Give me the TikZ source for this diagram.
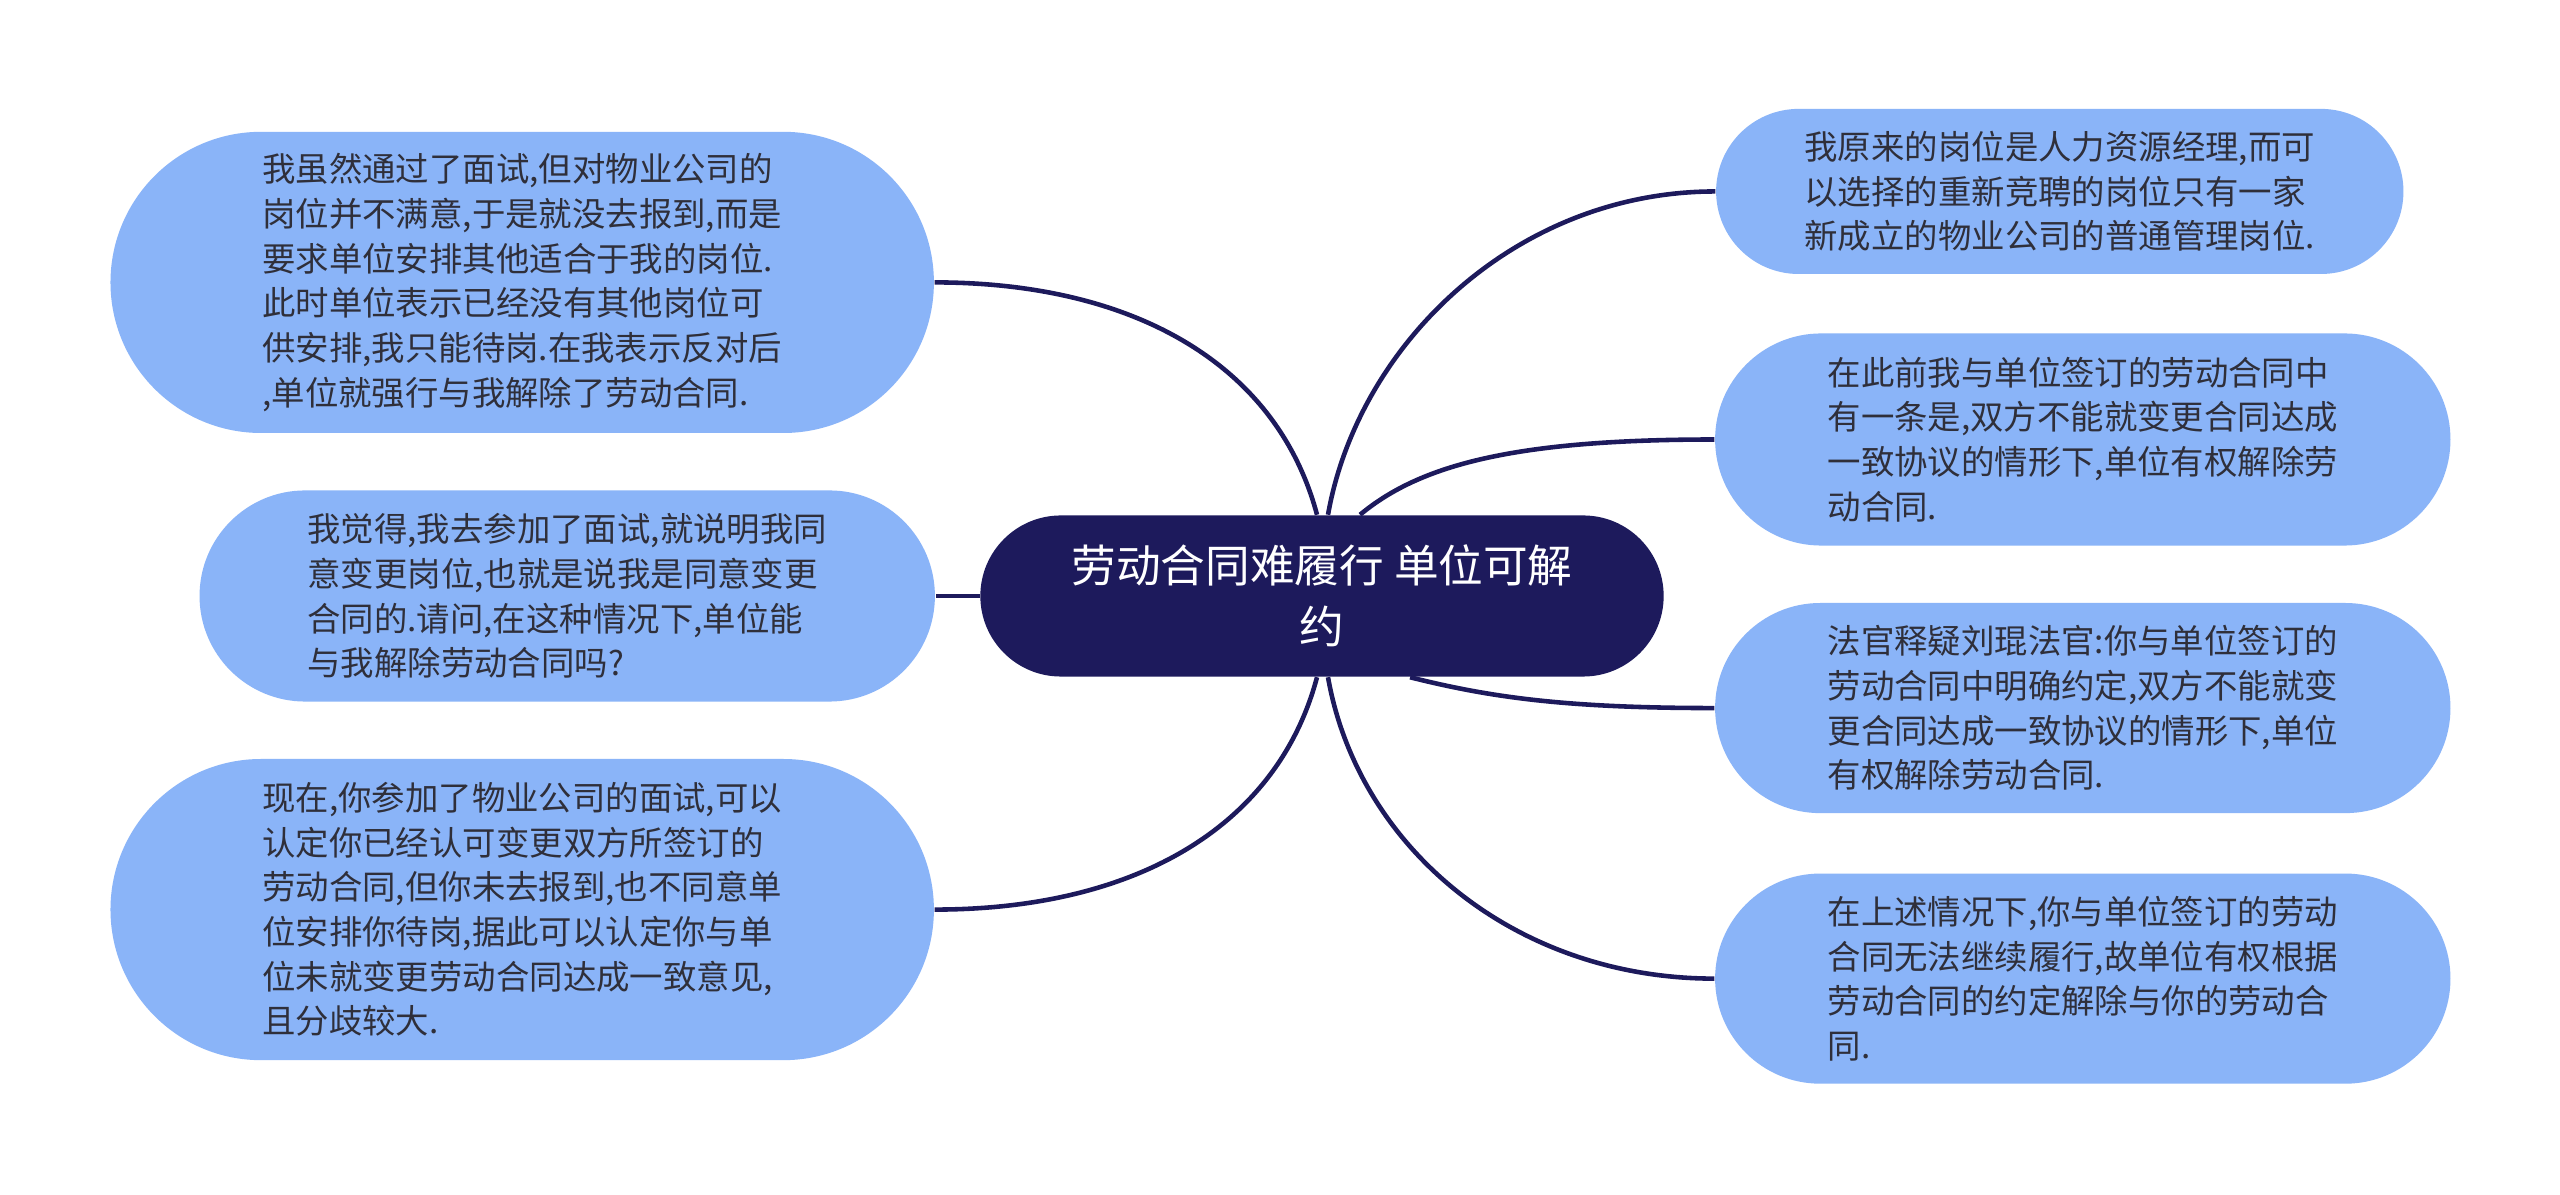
\documentclass[tikz,border=0pt]{standalone}
\usepackage{fontspec}
\usepackage{xcolor}
\usepackage{tikz}
\usetikzlibrary{positioning,shapes.misc}
\newfontfamily\cjkfont{Noto Sans CJK SC}
\definecolor{MapNavy}{HTML}{1D1A5C}
\definecolor{MapBlue}{HTML}{8AB4F8}
\definecolor{MapText}{HTML}{2F2F3A}
\tikzset{
  rootbox/.style={rounded rectangle,fill=MapNavy,text=white,align=center,inner sep=2pt,font=\cjkfont\fontsize{12.7pt}{17.3pt}\selectfont},
  leafbox/.style={rounded rectangle,fill=MapBlue,text=MapText,align=left,inner sep=2pt,font=\cjkfont\fontsize{9.5pt}{12.7pt}\selectfont},
  branch/.style={draw=MapNavy,line width=1.3pt}
}

\begin{document}
\begin{tikzpicture}[x=0.01cm,y=-0.01cm]
\path[use as bounding box,fill=white] (0,0) rectangle (2560,1195);

\node[rootbox,minimum width=6.97cm,minimum height=1.61cm] (root) at (1322,596) {劳动合同难履行 单位可解\\约};

% left side
\node[leafbox,left=0.44cm of root,minimum width=7.49cm,minimum height=2.11cm] (ask) {我觉得,我去参加了面试,就说明我同\\意变更岗位,也就是说我是同意变更\\合同的.请问,在这种情况下,单位能\\与我解除劳动合同吗?};
\node[leafbox,above=0.56cm of ask.north,xshift=-0.45cm,minimum width=8.37cm,minimum height=3.01cm] (refuse) {我虽然通过了面试,但对物业公司的\\岗位并不满意,于是就没去报到,而是\\要求单位安排其他适合于我的岗位.\\此时单位表示已经没有其他岗位可\\供安排,我只能待岗.在我表示反对后\\,单位就强行与我解除了劳动合同.};
\node[leafbox,below=0.56cm of ask.south,xshift=-0.45cm,minimum width=8.37cm,minimum height=3.01cm] (reply) {现在,你参加了物业公司的面试,可以\\认定你已经认可变更双方所签订的\\劳动合同,但你未去报到,也不同意单\\位安排你待岗,据此可以认定你与单\\位未就变更劳动合同达成一致意见,\\且分歧较大.};

% right side
\node[leafbox,right=0.5cm of root,yshift=-1.12cm,minimum width=7.49cm,minimum height=2.10cm] (judge) {法官释疑刘琨法官:你与单位签订的\\劳动合同中明确约定,双方不能就变\\更合同达成一致协议的情形下,单位\\有权解除劳动合同.};
\node[leafbox,above=0.56cm of judge,minimum width=7.49cm,minimum height=2.12cm] (clause) {在此前我与单位签订的劳动合同中\\有一条是,双方不能就变更合同达成\\一致协议的情形下,单位有权解除劳\\动合同.};
\node[leafbox,above=0.58cm of clause.north,xshift=-0.23cm,minimum width=7.01cm,minimum height=1.65cm] (job) {我原来的岗位是人力资源经理,而可\\以选择的重新竞聘的岗位只有一家\\新成立的物业公司的普通管理岗位.};
\node[leafbox,below=0.59cm of judge,minimum width=7.49cm,minimum height=2.10cm] (result) {在上述情况下,你与单位签订的劳动\\合同无法继续履行,故单位有权根据\\劳动合同的约定解除与你的劳动合\\同.};

% branches
\draw[branch] ([xshift=-0.05cm]root.north) .. controls +(-40,-150) and +(200,0) .. (refuse.east);
\draw[branch] (root.west) -- (ask.east);
\draw[branch] ([xshift=-0.05cm]root.south) .. controls +(-40,150) and +(200,0) .. (reply.east);
\draw[branch] ([xshift=0.06cm]root.north) .. controls +(30,-170) and +(-200,0) .. (job.west);
\draw[branch] ([xshift=0.38cm]root.north) .. controls +(60,-50) and +(-200,0) .. (clause.west);
\draw[branch] ([xshift=0.88cm]root.south) .. controls +(80,20) and +(-150,0) .. (judge.west);
\draw[branch] ([xshift=0.06cm]root.south) .. controls +(30,170) and +(-200,0) .. (result.west);
\end{tikzpicture}
\end{document}
